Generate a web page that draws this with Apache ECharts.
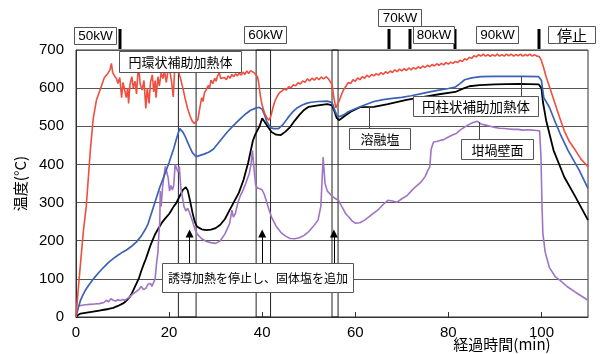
<!DOCTYPE html>
<html><head><meta charset="utf-8">
<script src="https://cdn.jsdelivr.net/npm/echarts/dist/echarts.min.js"></script>
<style>html,body{margin:0;padding:0;background:#fff}#c{width:604px;height:354px}</style>
</head><body><div id="c"></div>
<script>
// ---- data (x = elapsed minutes, y = temperature °C) ----
const xTicks = [0, 20, 40, 60, 80, 100];
const yTicks = [0, 100, 200, 300, 400, 500, 600, 700];

const ringHeater = [[0,0],[0.5,75],[1,145],[1.6,227],[2.2,290],[2.5,340],[3.1,440],[3.7,520],[4.4,569],[5.3,600],[6.1,628],[6.8,638],[7.3,648],[7.6,665],[7.9,640],[8.3,632],[8.7,625],[9.0,612],[9.4,628],[9.8,575],[10.1,615],[10.5,620],[10.8,575],[11.1,600],[11.3,560],[11.6,610],[12.0,630],[12.3,600],[12.7,618],[13.0,585],[13.3,640],[13.5,652],[13.8,610],[14.2,595],[14.6,620],[15.0,547],[15.3,600],[15.7,560],[16.0,615],[16.4,635],[16.7,590],[17.0,620],[17.2,575],[17.6,630],[17.9,605],[18.3,640],[18.7,625],[19.0,645],[19.4,615],[19.7,640],[20.1,650],[20.5,620],[20.9,577],[21.2,650],[21.6,662],[22.0,645],[22.4,628],[23.0,598],[23.5,570],[24.0,546],[24.5,527],[25.0,513],[25.4,507],[25.8,505],[26.2,518],[26.6,548],[27.0,575],[27.3,565],[27.6,588],[28.0,596],[28.4,607],[28.7,600],[29.0,621],[29.4,612],[29.8,626],[30.1,618],[30.4,632],[30.8,640],[31.1,625],[31.5,620],[31.9,628],[32.3,622],[32.7,632],[33.1,626],[33.5,636],[33.9,630],[34.3,638],[34.7,632],[35.1,640],[35.5,634],[35.9,642],[36.3,636],[36.7,645],[37.1,638],[37.5,646],[37.9,647],[38.3,640],[38.6,642],[39.0,630],[39.3,610],[39.6,580],[40.0,555],[40.5,535],[41.0,522],[41.5,516],[41.9,528],[42.3,548],[42.7,565],[43.2,578],[43.7,588],[44.2,592],[44.7,598],[45.2,595],[45.7,604],[46.2,601],[46.7,609],[47.2,606],[47.7,614],[48.2,611],[48.7,619],[49.2,615],[49.7,624],[50.2,619],[50.7,626],[51.2,621],[51.7,628],[52.2,622],[52.7,629],[53.2,624],[53.7,630],[54.2,625],[54.6,628],[55.0,610],[55.4,575],[55.8,548],[56.2,552],[56.6,568],[57.0,582],[57.5,596],[58.0,605],[58.5,615],[59.0,612],[59.5,622],[60.0,618],[60.5,627],[61.0,622],[61.5,630],[62.0,626],[62.5,634],[63.0,629],[63.5,636],[64.0,632],[64.5,638],[65.0,634],[65.5,641],[66.0,636],[66.5,643],[67.0,639],[67.5,645],[68.0,641],[68.5,648],[69.0,643],[69.5,650],[70.0,645],[70.5,651],[71.0,646],[71.5,653],[72.0,648],[72.5,654],[73.0,650],[73.5,656],[74.0,652],[74.5,658],[75.0,654],[75.5,660],[76.0,656],[76.5,662],[77.0,658],[77.5,664],[78.0,660],[78.5,665],[79.0,661],[79.5,667],[80.0,663],[80.5,668],[81.0,665],[81.5,670],[82.0,667],[82.5,673],[83.0,670],[83.5,677],[84.0,674],[84.5,681],[85.0,678],[85.5,685],[86.0,682],[86.5,688],[87.0,684],[87.5,689],[88.0,684],[88.5,688],[89.0,683],[89.5,688],[90.0,684],[90.5,689],[91.0,684],[91.5,688],[92.0,684],[92.5,689],[93.0,685],[93.5,689],[94.0,684],[94.5,688],[95.0,685],[95.5,689],[96.0,684],[96.5,688],[97.0,685],[97.5,689],[98.0,684],[98.5,688],[99.0,684],[99.5,683],[100.0,672],[100.5,652],[101.0,630],[101.7,605],[102.5,575],[103.3,545],[104.0,520],[104.9,488],[106.0,460],[107.3,437],[108.5,414],[110,394]];

const rodHeater = [[0,0],[0.5,25],[1,45],[1.5,58],[2,70],[3,88],[4,104],[5,118],[6,131],[7,143],[8,153],[9,162],[10,170],[11,177],[12,186],[13,197],[14,212],[15,232],[15.5,245],[16,264],[17,302],[18,340],[19,372],[20,405],[21,442],[21.6,468],[22.3,494],[23,484],[23.5,472],[24,458],[24.5,444],[25,431],[25.8,420],[26.5,423],[27.5,427],[28.5,432],[29.5,440],[30.5,455],[31.5,470],[32.5,485],[33.5,498],[34.5,510],[35.5,522],[36.5,533],[37.5,542],[38.5,547],[39.3,550],[40,545],[40.5,530],[41,512],[41.8,496],[42.5,494],[43.5,494],[44.5,505],[45.5,522],[46.5,537],[47.5,548],[48.5,555],[49.5,560],[50.5,563],[52,565],[54,566],[55,562],[55.5,545],[56,530],[56.5,525],[57.5,530],[58.5,538],[60,546],[62,556],[64,565],[66,570],[68,573],[70,576],[72,580],[74,585],[76,590],[78,595],[80,599],[81.5,603],[82.5,612],[83.5,622],[85,627],[87,630],[90,631],[93,631],[96,631],[99.4,630],[100,620],[100.5,575],[101.7,550],[103,510],[104,481],[105.7,437],[108.1,385],[110,337]];

const moltenSalt = [[0,0],[0.5,6],[1,9],[2,11],[3,13],[4,15],[5,17],[6,19],[7,21],[8,24],[9,29],[10,35],[10.5,39],[11,45],[11.5,52],[12,62],[12.5,75],[13,88],[13.5,101],[14,120],[14.6,140],[15,152],[15.5,170],[16,188],[16.5,203],[17,217],[17.5,228],[18,238],[18.5,248],[19,256],[19.5,263],[20,270],[20.5,280],[21,290],[21.5,298],[22,310],[22.5,322],[23,334],[23.6,340],[24,332],[24.5,305],[25,275],[25.5,250],[26,237],[27,230],[28,228],[29,229],[30,233],[31,242],[32,257],[33,280],[34,303],[35,326],[36,360],[37,405],[38,462],[38.5,478],[39,490],[39.5,502],[40,521],[40.5,512],[41,503],[42,485],[43,478],[44,477],[45,486],[46,498],[47,515],[48,530],[49,543],[50,551],[52,555],[54,558],[55,555],[55.5,540],[56,522],[56.5,516],[57.5,525],[59,538],[61,550],[64,551],[67,558],[71,569],[75,578],[78,584],[81.5,590],[83,598],[84.5,605],[86.7,608],[90,610],[95,611],[99.4,610],[100,600],[100.3,565],[101,516],[102.6,437],[104.9,367],[107.3,315],[110,254]];

const crucibleWall = [[0.5,28],[1,30],[2,32],[3,33],[4,34],[5,35],[6,38],[6.5,44],[7,40],[7.5,48],[8,44],[8.5,42],[9,45],[9.5,43],[10,46],[10.5,44],[11,48],[11.5,52],[12,58],[12.5,63],[13,67],[13.5,72],[14,80],[14.5,72],[15,75],[15.5,86],[16,88],[16.3,80],[16.7,82],[17,100],[17.3,140],[17.6,170],[17.8,215],[18,250],[18.1,330],[18.3,290],[18.6,340],[18.9,370],[19.2,395],[19.5,380],[19.8,365],[20.1,330],[20.4,345],[20.7,333],[21,345],[21.3,400],[21.6,402],[21.9,380],[22.2,395],[22.5,340],[22.8,318],[23.2,290],[23.6,278],[24,285],[24.5,270],[25,252],[25.5,232],[26,218],[27,205],[28,198],[29,195],[30,193],[31,200],[32,218],[33,245],[33.5,280],[33.8,262],[34.2,270],[34.8,300],[35.3,318],[35.8,330],[36.3,345],[36.8,362],[37.2,375],[37.6,400],[37.9,437],[38.2,395],[38.6,345],[39,338],[39.5,336],[40,333],[40.5,320],[41,300],[41.5,280],[42,262],[43,238],[44,222],[45,212],[46,206],[47,205],[48,208],[49,214],[50,224],[51,238],[52,254],[52.6,290],[53.1,419],[53.5,350],[54,330],[54.9,319],[55.5,312],[56.4,306],[57,292],[58,270],[58.6,262],[59.3,252],[60,246],[61,247],[62,254],[63,263],[64,273],[64.8,280],[66,295],[67,306],[68,304],[69,301],[70,310],[71.2,319],[72,330],[73,342],[74,352],[75,368],[75.6,385],[76,393],[76.3,440],[76.8,459],[77.5,460],[78,462],[79,465],[80,472],[81,478],[81.7,481],[82.5,490],[83.5,498],[84.5,505],[85.3,510],[86.2,513],[87,506],[88,503],[89,500],[90,497],[91,495],[92,494],[93,493],[94,492],[95,492],[96,490],[97,491],[98,490],[99,489],[99.6,488],[99.9,420],[100.1,300],[100.3,220],[100.8,170],[101.7,130],[103,105],[104,96],[105.5,80],[107.3,65],[110,44]];

// annotations (minutes)
const powerMarks = [9.5, 67.2, 71.8, 81.5, 99.5];
const heatBoxes = [[22.0, 25.8, 643], [38.7, 41.8, 700], [55.0, 56.3, 700]];
const arrowTimes = [24.4, 40.0, 55.4];
const arrowFrom = 140, arrowTo = 219;

const NUM = '"Liberation Sans", Arial, sans-serif';
const JP = '"Noto Sans CJK JP", sans-serif';

const chart = echarts.init(document.getElementById('c'), null, {renderer: 'canvas'});
const lineSeries = (name, data, color, w) => ({
  name, type: 'line', data, showSymbol: false, symbol: 'none',
  lineStyle: {color, width: w}, itemStyle: {color}, z: 3
});

chart.setOption({
  animation: false,
  backgroundColor: '#fff',
  grid: {left: 76, right: 16, top: 50, bottom: 37, show: true, borderColor: '#333', borderWidth: 1},
  xAxis: {
    type: 'value', min: 0, max: 110, interval: 20,
    axisLine: {lineStyle: {color: '#333'}},
    axisTick: {inside: true, length: 5, lineStyle: {color: '#333'}},
    axisLabel: {color: '#000', fontSize: 15, fontFamily: NUM, margin: 8, showMaxLabel: false},
    splitLine: {show: false}
  },
  yAxis: {
    type: 'value', min: 0, max: 700, interval: 100,
    name: '温度(°C)', nameLocation: 'middle', nameGap: 48, nameRotate: 90,
    nameTextStyle: {fontSize: 15, fontFamily: JP, color: '#000'},
    axisLine: {show: true, lineStyle: {color: '#333'}},
    axisTick: {show: false},
    axisLabel: {color: '#000', fontSize: 15, fontFamily: NUM, margin: 12},
    splitLine: {show: true, lineStyle: {color: '#555', width: 1}}
  },
  series: [
    Object.assign(lineSeries('溶融塩', moltenSalt, '#000000', 1.8), {
      markArea: {
        silent: true,
        itemStyle: {color: 'rgba(0,0,0,0)', borderColor: '#222', borderWidth: 1},
        label: {show: false},
        data: heatBoxes.map(b => [{xAxis: b[0], yAxis: 0}, {xAxis: b[1], yAxis: b[2]}])
      },
      markLine: {
        silent: true, symbol: ['none', 'triangle'], symbolSize: 8,
        lineStyle: {color: '#000', width: 1, type: 'solid'}, label: {show: false},
        data: arrowTimes.map(t => [{coord: [t, arrowFrom]}, {coord: [t, arrowTo]}])
      }
    }),
    lineSeries('坩堝壁面', crucibleWall, '#a074c4', 1.6),
    lineSeries('円柱状補助加熱体', rodHeater, '#3b62b5', 1.7),
    lineSeries('円環状補助加熱体', ringHeater, '#f04e3e', 1.6)
  ]
});

// ---- annotation graphics ----
const px = t => chart.convertToPixel({xAxisIndex: 0}, t);
const g = [];
const box = (x, y, w, h, text, font, stroke) => {
  g.push({type: 'rect', z: 100, shape: {x: Math.round(x) + 0.5, y: Math.round(y) + 0.5, width: w, height: h},
    style: {fill: '#fff', stroke: stroke || '#555', lineWidth: 1}});
  g.push({type: 'text', z: 101, x: Math.round(x) + w / 2 + 0.5, y: Math.round(y) + h / 2 + 1,
    style: {text, font, fill: '#000', align: 'center', verticalAlign: 'middle'}});
};
const vline = (x, y1, y2, w, c) => g.push({type: 'line', z: 100,
  shape: {x1: x, y1, x2: x, y2}, style: {stroke: c, lineWidth: w}});

// power step markers
powerMarks.forEach(t => vline(Math.round(px(t)), 29, 49, 3, '#000'));
const kwFont = '13.5px ' + NUM;
box(px(powerMarks[0]) - 46, 27, 42, 17, '50kW', kwFont);
box(px(40.5) - 21, 26, 42, 17, '60kW', kwFont);
box((px(powerMarks[1]) + px(powerMarks[2])) / 2 - 21, 9, 43, 17, '70kW', kwFont);
box((px(powerMarks[2]) + px(powerMarks[3])) / 2 - 20, 26, 41, 17, '80kW', kwFont);
box((px(powerMarks[3]) + px(powerMarks[4])) / 2 - 21, 26, 42, 17, '90kW', kwFont);
box(px(powerMarks[4]) + 9, 26, 47, 17, '停止', '15px ' + JP);

// series labels with leader lines
vline(521.5, 76, 96, 1, '#444');
vline(369.5, 106, 128, 1, '#444');
vline(479.5, 122, 139, 1, '#444');
box(119, 51, 122, 21, '円環状補助加熱体', '13px ' + JP);
box(413, 96, 125, 20, '円柱状補助加熱体', '13.5px ' + JP);
box(349, 128, 61, 21, '溶融塩', '13px ' + JP);
box(461, 139, 72, 20, '坩堝壁面', '13px ' + JP);
box(162, 263, 191, 29, '誘導加熱を停止し、固体塩を追加', '12px ' + JP);

// x axis name
g.push({type: 'text', z: 100, x: 502, y: 344,
  style: {text: '経過時間(min)', font: '15px ' + JP, fill: '#000', align: 'center', verticalAlign: 'middle'}});

chart.setOption({graphic: {elements: g}});
</script></body></html>
